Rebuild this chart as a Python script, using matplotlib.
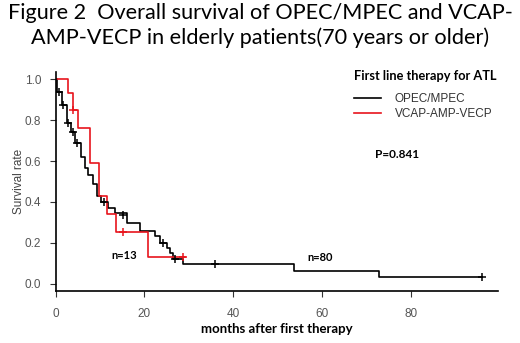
import numpy as np
import matplotlib
matplotlib.use("Agg")
import matplotlib.pyplot as plt

# KM step data (months, survival)
opec_t = [0, 0.3, 1.35, 2.5, 3.4, 4.3, 5.7, 6.6, 7.3, 8.5, 9.2, 10.3, 11.8, 13.4,
          16.1, 19.0, 22.4, 23.6, 25.0, 25.8, 26.5, 28.8, 53.8, 72.9, 96.0]
opec_s = [1.0, 0.935, 0.873, 0.784, 0.743, 0.686, 0.62, 0.566, 0.53, 0.49, 0.43, 0.40,
          0.37, 0.345, 0.297, 0.26, 0.235, 0.20, 0.176, 0.15, 0.12, 0.098, 0.065, 0.031, 0.031]
opec_cens_t = [0.8, 1.7, 2.85, 3.8, 4.9, 10.9, 15.2, 24.2, 26.9, 35.9, 96.0]
opec_cens_s = [0.935, 0.873, 0.784, 0.743, 0.686, 0.40, 0.337, 0.20, 0.12, 0.098, 0.031]

vcap_t = [0, 2.85, 4.0, 5.1, 7.7, 9.8, 11.6, 13.7, 20.7, 29.1]
vcap_s = [1.0, 0.93, 0.849, 0.763, 0.59, 0.43, 0.34, 0.252, 0.13, 0.13]
vcap_cens_t = [4.0, 15.1, 28.8]
vcap_cens_s = [0.849, 0.252, 0.13]

xticks = [0, 20, 40, 60, 80]
yticks = [0.0, 0.2, 0.4, 0.6, 0.8, 1.0]

fig = plt.figure(figsize=(5.2, 3.43), dpi=100)
ax = fig.add_axes([0.1071, 0.1516, 0.8506, 0.6385])

ax.step(opec_t, opec_s, where="post", color="black", lw=1.2, label="OPEC/MPEC")
ax.step(vcap_t, vcap_s, where="post", color="#e8141c", lw=1.2, label="VCAP-AMP-VECP")
ax.plot(opec_cens_t, opec_cens_s, ls="none", marker="+", ms=6, mew=1.1, color="black")
ax.plot(vcap_cens_t, vcap_cens_s, ls="none", marker="+", ms=6, mew=1.1, color="#e8141c")

ax.set_xlim(0, 99.7)
ax.set_ylim(-0.035, 1.035)
ax.set_xticks(xticks)
ax.set_yticks(yticks)
ax.set_xticklabels([str(v) for v in xticks])
ax.set_yticklabels([f"{v:.1f}" for v in yticks])
for s in ["top", "right"]:
    ax.spines[s].set_visible(False)
for s in ["left", "bottom"]:
    ax.spines[s].set_linewidth(1.2)
ax.tick_params(length=4.5, width=0.8, colors="#333333", labelsize=8.5,
               labelcolor="#555555")
ax.tick_params(axis="y", pad=6)
ax.tick_params(axis="x", pad=8)
for lab in ax.get_xticklabels() + ax.get_yticklabels():
    lab.set_family("Liberation Sans")

ax.set_ylabel("Survival rate", fontsize=8.5, family="Liberation Sans", color="#444444", labelpad=0)
ax.set_xlabel("months after first therapy", fontsize=9.5, family="Lato", weight="bold", labelpad=2)

ax.text(15.4, 0.14, "n=13", fontsize=8, family="Lato", weight="bold", ha="center", va="center")
ax.text(59.6, 0.13, "n=80", fontsize=8, family="Lato", weight="bold", ha="center", va="center")
ax.text(77, 0.634, "P=0.841", fontsize=8.5, family="Lato", weight="bold", ha="center", va="center")

leg = ax.legend(loc="upper left", bbox_to_anchor=(0.66, 1.035), frameon=False,
                title="First line therapy for ATL", handlelength=2.3, handletextpad=1.2,
                labelspacing=0.2, borderpad=0,
                prop={"family": "Liberation Sans", "size": 8.5})
leg.get_title().set_fontweight("bold")
leg.get_title().set_family("Lato")
leg.get_title().set_fontsize(9.2)
leg._legend_box.align = "left"
leg._legend_box.sep = 8
for t in leg.get_texts():
    t.set_color("#333333")

fig.text(0.5, 0.992, "Figure 2  Overall survival of OPEC/MPEC and VCAP-\nAMP-VECP in elderly patients(70 years or older)",
         ha="center", va="top", fontsize=15.6, family="Lato", linespacing=1.3)

fig.savefig("out.png", dpi=100)
